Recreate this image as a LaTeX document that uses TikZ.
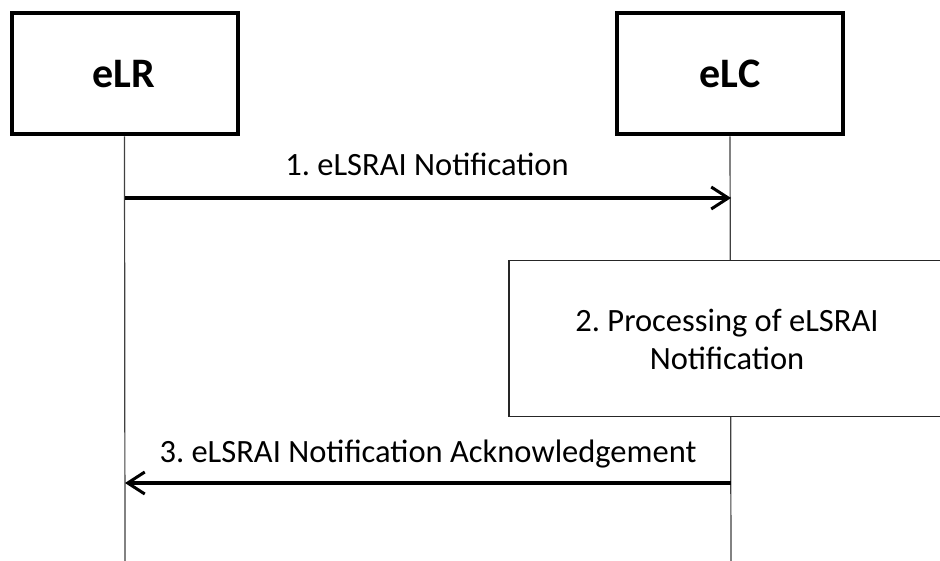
\documentclass[tikz,border=0pt]{standalone}
\usepackage{fontspec}
\setmainfont{Carlito}
\frenchspacing
\usetikzlibrary{arrows.meta}
\begin{document}
\begin{tikzpicture}[x=1pt,y=-1pt,
  actor/.style={draw,line width=4pt,fill=white,minimum width=226pt,minimum height=121pt,inner sep=0pt},
  actortext/.style={font=\fontsize{42}{46}\selectfont\bfseries,inner sep=0pt,anchor=base},
  procbox/.style={draw=black!85,line width=1.3pt,fill=white,minimum width=436pt,minimum height=156pt,inner sep=0pt},
  proctext/.style={align=center,inner sep=0pt,font=\fontsize{32.5}{38}\selectfont},
  lifeline/.style={line width=1.2pt,draw=black!75},
  msg/.style={line width=3.3pt,-{Straight Barb[length=17pt,width=22pt,line width=3pt]}},
  lbl/.style={font=\fontsize{32.5}{36}\selectfont,inner sep=0pt,anchor=base}]
\useasboundingbox[fill=white] (0,0) rectangle (940,561);
\node[actor] (lr) at (124.5,74) {};
\node[actor] (lc) at (730,74) {};
\node[actortext] (lrt) at (124,88) {eLR};
\node[actortext] (lct) at (730,88) {eLC};
\coordinate (lrend) at (125,561);
\coordinate (lcend) at (731,561);
\draw[lifeline] (lr.south) -- (lrend);
\draw[lifeline] (lc.south) -- (lcend);
\node[procbox] (proc) at (727,338.5) {};
\node[proctext] (pt) at (727,339) {2. Processing of eLSRAI\\Notification};
\coordinate (m1s) at (125,198);
\coordinate (m1e) at (731,198);
\draw[msg] (m1s) -- (m1e);
\node[lbl] (l1) at (427,176) {1. eLSRAI Notification};
\coordinate (m3s) at (731,483);
\coordinate (m3e) at (125,483);
\draw[msg] (m3s) -- (m3e);
\node[lbl] (l3) at (428,462) {3. eLSRAI Notification Acknowledgement};
\end{tikzpicture}
\end{document}
